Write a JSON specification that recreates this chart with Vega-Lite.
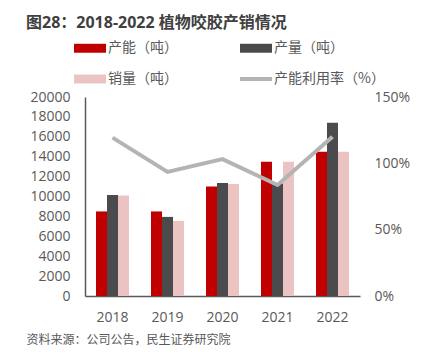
{
  "$schema": "https://vega.github.io/schema/vega-lite/v6.json",
  "width": 275,
  "height": 199,
  "autosize": {"type": "none"},
  "padding": {"left": 85, "top": 97, "right": 66, "bottom": 68},
  "config": {"view": {"stroke": null}, "font": "Open Sans, Noto Sans CJK SC"},
  "title": {
    "text": "图28：2018-2022 植物咬胶产销情况",
    "anchor": "start",
    "frame": "group",
    "dx": -59,
    "dy": 5,
    "fontSize": 16,
    "fontWeight": "bold",
    "color": "#404040",
    "font": "Open Sans, Noto Sans CJK SC"
  },
  "resolve": {"scale": {"y": "independent"}},
  "layer": [
    {
      "data": {
        "values": [
          {"year": "2018", "series": "产能（吨）", "value": 8500},
          {"year": "2018", "series": "产量（吨）", "value": 10150},
          {"year": "2018", "series": "销量（吨）", "value": 10100},
          {"year": "2019", "series": "产能（吨）", "value": 8500},
          {"year": "2019", "series": "产量（吨）", "value": 7950},
          {"year": "2019", "series": "销量（吨）", "value": 7550},
          {"year": "2020", "series": "产能（吨）", "value": 11000},
          {"year": "2020", "series": "产量（吨）", "value": 11350},
          {"year": "2020", "series": "销量（吨）", "value": 11250},
          {"year": "2021", "series": "产能（吨）", "value": 13500},
          {"year": "2021", "series": "产量（吨）", "value": 11300},
          {"year": "2021", "series": "销量（吨）", "value": 13500},
          {"year": "2022", "series": "产能（吨）", "value": 14500},
          {"year": "2022", "series": "产量（吨）", "value": 17400},
          {"year": "2022", "series": "销量（吨）", "value": 14500}
        ]
      },
      "mark": {"type": "bar"},
      "encoding": {
        "x": {
          "field": "year",
          "type": "nominal",
          "scale": {"paddingInner": 0.4, "paddingOuter": 0.2},
          "axis": {
            "title": "资料来源：公司公告，民生证券研究院",
            "titleAnchor": "start",
            "titleX": -59,
            "titleY": 43,
            "titleFontSize": 12,
            "titleFontWeight": "normal",
            "titleColor": "#595959",
            "titleBaseline": "middle",
            "titleFont": "Noto Sans CJK SC",
            "labelAngle": 0,
            "labelFontSize": 14,
            "labelColor": "#595959",
            "labelPadding": 14,
            "ticks": false,
            "domainColor": "#595959",
            "domainWidth": 1.5
          }
        },
        "xOffset": {
          "field": "series",
          "type": "nominal",
          "scale": {"domain": ["产能（吨）", "产量（吨）", "销量（吨）"]}
        },
        "y": {
          "field": "value",
          "type": "quantitative",
          "scale": {"domain": [0, 20000], "nice": false},
          "axis": {
            "title": null,
            "values": [0, 2000, 4000, 6000, 8000, 10000, 12000, 14000, 16000, 18000, 20000],
            "format": "d",
            "labelFontSize": 14,
            "labelColor": "#595959",
            "labelPadding": 15,
            "ticks": false,
            "grid": false,
            "domainColor": "#595959",
            "domainWidth": 1.5
          }
        },
        "color": {
          "field": "series",
          "type": "nominal",
          "scale": {
            "domain": ["产能（吨）", "产量（吨）", "销量（吨）", "产能利用率（%）"],
            "range": ["#C00000", "#4B4B4D", "#EBC3C3", "#B4B4B4"]
          },
          "legend": {
            "orient": "none",
            "direction": "horizontal",
            "legendX": -13,
            "legendY": -67,
            "columns": 2,
            "title": null,
            "symbolSize": 1024,
            "symbolStrokeWidth": 4,
            "symbolType": "M-1,-0.28H1V0.28H-1Z",
            "labelFontSize": 14,
            "labelColor": "#595959",
            "labelFont": "Noto Sans CJK SC",
            "labelOffset": 0,
            "rowPadding": -8,
            "columnPadding": 54,
            "encode": {
              "symbols": {
                "update": {
                  "shape": {"signal": "datum.value === '产能利用率（%）' ? 'stroke' : 'M-1,-0.28H1V0.28H-1Z'"},
                  "stroke": {"signal": "datum.value === '产能利用率（%）' ? scale('color', datum.value) : 'transparent'"},
                  "fill": {"signal": "datum.value === '产能利用率（%）' ? 'transparent' : scale('color', datum.value)"},
                  "opacity": {"value": 1}
                }
              }
            }
          }
        }
      }
    },
    {
      "data": {
        "values": [
          {"year": "2018", "rate": 1.194},
          {"year": "2019", "rate": 0.935},
          {"year": "2020", "rate": 1.032},
          {"year": "2021", "rate": 0.837},
          {"year": "2022", "rate": 1.2}
        ]
      },
      "mark": {"type": "line", "strokeWidth": 4, "color": "#B4B4B4"},
      "encoding": {
        "x": {"field": "year", "type": "nominal"},
        "y": {
          "field": "rate",
          "type": "quantitative",
          "scale": {"domain": [0, 1.5], "nice": false},
          "axis": {
            "orient": "right",
            "title": null,
            "values": [0, 0.5, 1, 1.5],
            "format": ".0%",
            "labelFontSize": 14,
            "labelColor": "#595959",
            "labelPadding": 14,
            "ticks": false,
            "grid": false,
            "domain": false
          }
        }
      }
    }
  ]
}
